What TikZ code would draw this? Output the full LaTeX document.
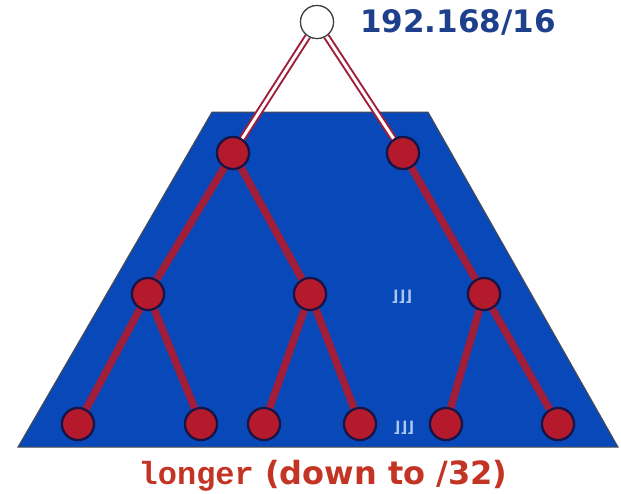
\documentclass[tikz,border=0pt]{standalone}
\usepackage{fontspec}
\setmainfont{DejaVu Sans}
\newfontfamily\mono{Liberation Mono}
\newfontfamily\dotsfont{DejaVu Sans}
\definecolor{trapblue}{RGB}{8,72,184}
\definecolor{edgered}{RGB}{160,30,58}
\definecolor{nodered}{RGB}{180,26,44}
\definecolor{navy}{RGB}{25,20,70}
\definecolor{labelblue}{RGB}{30,64,140}
\definecolor{labelred}{RGB}{196,52,36}
\definecolor{dotblue}{RGB}{170,200,240}
\begin{document}
\begin{tikzpicture}[x=1pt,y=-1pt,
  tnode/.style={circle,draw=navy,line width=2.2pt,fill=nodered,minimum size=32pt,inner sep=0pt},
  rootnode/.style={circle,draw=black!75,line width=1.2pt,fill=white,minimum size=33pt,inner sep=0pt},
  tedge/.style={draw=edgered,line width=7.5pt},
  dedge/.style={draw=edgered,double=white,line width=2pt,double distance=3pt},
  dotlab/.style={text=dotblue,font=\dotsfont\bfseries\fontsize{15}{15}\selectfont,inner sep=0pt}]
\useasboundingbox (0,0) rectangle (621,493);
\fill[white] (0,0) rectangle (621,493);
\filldraw[fill=trapblue,draw=black!70,line width=1pt] (212,112) -- (428,112) -- (618,447) -- (18,447) -- cycle;
% nodes
\node[rootnode] (r) at (317,22) {};
\node[tnode] (a) at (233,153) {};
\node[tnode] (b) at (403,153) {};
\node[tnode] (c) at (148,294) {};
\node[tnode] (d) at (310,294) {};
\node[tnode] (e) at (484,294) {};
\node[tnode] (f) at (78,424) {};
\node[tnode] (g) at (201,424) {};
\node[tnode] (h) at (264,424) {};
\node[tnode] (i) at (360,424) {};
\node[tnode] (j) at (446,424) {};
\node[tnode] (k) at (558,424) {};
% edges
\path[dedge] (r) -- (a.center);
\path[dedge] (r) -- (b.center);
\path[tedge] (a.center) -- (c.center);
\path[tedge] (a.center) -- (d.center);
\path[tedge] (b.center) -- (e.center);
\path[tedge] (c.center) -- (f.center);
\path[tedge] (c.center) -- (g.center);
\path[tedge] (d.center) -- (h.center);
\path[tedge] (d.center) -- (i.center);
\path[tedge] (e.center) -- (j.center);
\path[tedge] (e.center) -- (k.center);
% redraw nodes on top
\foreach \n in {a,b,c,d,e,f,g,h,i,j,k} {\node[tnode] at (\n) {};}
\node[rootnode] at (r) {};
% labels
\node[anchor=west,text=labelblue,font=\bfseries\fontsize{31}{31}\selectfont,inner sep=0pt] (lab) at (360,22) {192.168/16};
\node[dotlab] (d1) at (402,297) {⌋⌋⌋};
\node[dotlab] (d2) at (404,428) {⌋⌋⌋};
\node[text=labelred,font=\bfseries\fontsize{32}{32}\selectfont,inner sep=0pt,anchor=base] (bot) at (323,484) {{\mono\bfseries longer} (down to /32)};
\end{tikzpicture}
\end{document}
